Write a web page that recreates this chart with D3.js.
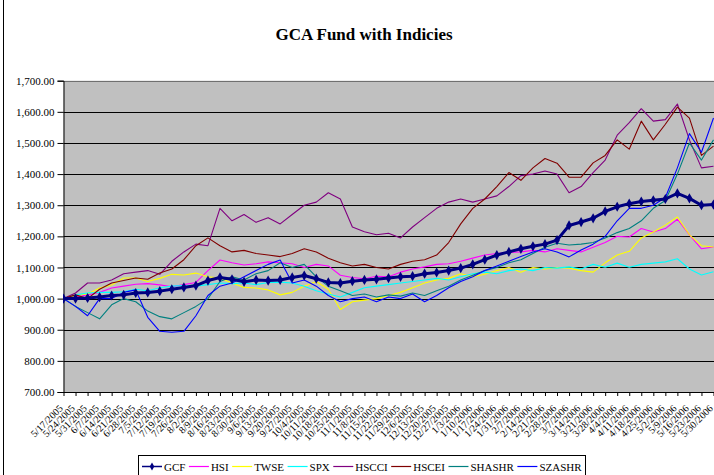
<!DOCTYPE html>
<html>
<head>
<meta charset="utf-8">
<script src="https://cdn.jsdelivr.net/npm/d3@7"></script>
<style>
body { margin: 0; background: #fff; }
svg { display: block; font-family: "Liberation Serif", "Times New Roman", serif; }
</style>
</head>
<body>
<div id="chart"></div>
<script>
// weekly category labels (x axis)
var dates = ["5/17/2005", "5/24/2005", "5/31/2005", "6/7/2005", "6/14/2005", "6/21/2005", "6/28/2005",
    "7/5/2005", "7/12/2005", "7/19/2005", "7/26/2005", "8/2/2005", "8/9/2005", "8/16/2005", "8/23/2005",
    "8/30/2005", "9/6/2005", "9/13/2005", "9/20/2005", "9/27/2005", "10/4/2005", "10/11/2005", "10/18/2005",
    "10/25/2005", "11/1/2005", "11/8/2005", "11/15/2005", "11/22/2005", "11/29/2005", "12/6/2005",
    "12/13/2005", "12/20/2005", "12/27/2005", "1/3/2006", "1/10/2006", "1/17/2006", "1/24/2006",
    "1/31/2006", "2/7/2006", "2/14/2006", "2/21/2006", "2/28/2006", "3/7/2006", "3/14/2006", "3/21/2006",
    "3/28/2006", "4/4/2006", "4/11/2006", "4/18/2006", "4/25/2006", "5/2/2006", "5/9/2006", "5/16/2006",
    "5/23/2006", "5/30/2006"];

var yTicks = [700, 800, 900, 1000, 1100, 1200, 1300, 1400, 1500, 1600, 1700];

var seriesNames = ["GCF", "HSI", "TWSE", "SPX", "HSCCI", "HSCEI", "SHASHR", "SZASHR"];
var seriesColors = ["#000080", "#ff00ff", "#ffff00", "#00ffff", "#800080", "#800000", "#008080", "#0000ff"];

var gcf = [1000, 1000, 1002, 1005, 1010, 1012, 1018, 1020, 1024, 1030, 1036, 1042, 1058, 1068, 1062,
    1054, 1060, 1058, 1060, 1068, 1074, 1064, 1052, 1050, 1056, 1060, 1062, 1066, 1070, 1072, 1080,
    1084, 1090, 1098, 1110, 1125, 1140, 1150, 1160, 1168, 1175, 1188, 1235, 1246, 1258, 1280, 1295,
    1305, 1312, 1316, 1320, 1338, 1322, 1300, 1302];
var hsi = [1000, 1005, 1012, 1020, 1034, 1040, 1046, 1048, 1044, 1038, 1045, 1052, 1090, 1124, 1115,
    1108, 1112, 1118, 1115, 1112, 1100, 1110, 1105, 1075, 1068, 1064, 1072, 1070, 1085, 1095, 1102,
    1110, 1112, 1120, 1130, 1140, 1145, 1148, 1150, 1155, 1150, 1160, 1155, 1150, 1165, 1180, 1200,
    1198, 1225, 1214, 1225, 1255, 1205, 1160, 1166];
var twse = [1000, 1010, 1015, 1034, 1044, 1066, 1066, 1055, 1065, 1078, 1076, 1082, 1070, 1066, 1050,
    1036, 1034, 1028, 1012, 1020, 1040, 1055, 1030, 965, 990, 995, 1000, 1010, 1020, 1035, 1050,
    1060, 1065, 1080, 1070, 1078, 1090, 1100, 1085, 1100, 1095, 1100, 1098, 1090, 1085, 1115, 1140,
    1152, 1195, 1214, 1236, 1262, 1205, 1170, 1166];
var spx = [1000, 1012, 1018, 1020, 1020, 1022, 1030, 1025, 1035, 1040, 1042, 1040, 1045, 1050, 1048,
    1050, 1045, 1052, 1053, 1050, 1040, 1025, 1015, 1005, 1020, 1035, 1040, 1045, 1050, 1055, 1060,
    1065, 1060, 1070, 1080, 1085, 1080, 1090, 1095, 1090, 1100, 1098, 1102, 1095, 1110, 1101, 1114,
    1101, 1110, 1114, 1118, 1128, 1095, 1076, 1086];
var hscci = [1000, 1018, 1050, 1050, 1060, 1080, 1085, 1090, 1078, 1120, 1150, 1175, 1170, 1290, 1250,
    1270, 1245, 1260, 1240, 1270, 1300, 1310, 1340, 1320, 1230, 1215, 1205, 1210, 1195, 1230, 1260,
    1290, 1310, 1320, 1310, 1320, 1330, 1360, 1395, 1400, 1410, 1400, 1340, 1360, 1405, 1445, 1525,
    1565, 1610, 1570, 1575, 1625, 1510, 1420, 1425];
var hscei = [1000, 1012, 1000, 1030, 1050, 1058, 1066, 1062, 1082, 1095, 1125, 1170, 1195, 1170, 1150,
    1155, 1145, 1140, 1135, 1145, 1160, 1150, 1130, 1115, 1105, 1110, 1100, 1095, 1110, 1120, 1125,
    1140, 1180, 1240, 1290, 1320, 1360, 1405, 1380, 1420, 1450, 1435, 1390, 1390, 1436, 1460, 1510,
    1480, 1570, 1510, 1560, 1615, 1580, 1460, 1490];
var shashr = [1000, 975, 955, 935, 980, 1000, 990, 960, 942, 935, 955, 975, 1000, 1055, 1070,
    1060, 1080, 1090, 1115, 1100, 1110, 1070, 1040, 1025, 1010, 1015, 1005, 1012, 1008, 1018, 1010,
    1025, 1040, 1060, 1075, 1090, 1100, 1115, 1125, 1145, 1165, 1178, 1172, 1175, 1180, 1195, 1212,
    1225, 1250, 1290, 1315, 1400, 1500, 1445, 1510];
var szashr = [1000, 975, 945, 1000, 1000, 1020, 1028, 940, 895, 892, 895, 945, 1010, 1040, 1050,
    1070, 1090, 1110, 1124, 1050, 1060, 1040, 1010, 990, 1000, 1005, 990, 1005, 1000, 1015, 990,
    1010, 1035, 1055, 1070, 1090, 1105, 1120, 1135, 1150, 1160, 1150, 1134, 1156, 1175, 1200, 1250,
    1290, 1290, 1300, 1325, 1420, 1530, 1470, 1580];

var seriesValues = [gcf, hsi, twse, spx, hscci, hscei, shashr, szashr];

var width = 714,
    height = 475;

var svg = d3.select("#chart").append("svg")
    .attr("width", width)
    .attr("height", height);

svg.append("rect")
    .attr("width", width)
    .attr("height", height)
    .attr("fill", "#fff");

// chart area border (only left edge is inside the picture)
svg.append("line")
    .attr("x1", 3.5).attr("x2", 3.5)
    .attr("y1", 0).attr("y2", height)
    .attr("stroke", "#000");

var x = d3.scalePoint()
    .domain(dates)
    .range([63.5, 713.5]);

var y = d3.scaleLinear()
    .domain([700, 1700])
    .range([392, 80.7]);

svg.append("text")
    .attr("x", 364)
    .attr("y", 40)
    .attr("text-anchor", "middle")
    .attr("font-size", 17)
    .attr("font-weight", "bold")
    .text("GCA Fund with Indicies");

// plot area
svg.append("rect")
    .attr("x", 63.5)
    .attr("y", y(1700))
    .attr("width", width - 63.5 + 5)
    .attr("height", y(700) - y(1700))
    .attr("fill", "#c0c0c0");

svg.append("g")
    .selectAll("line")
    .data(yTicks.slice(1))
    .enter().append("line")
    .attr("x1", 63.5)
    .attr("x2", width + 5)
    .attr("y1", function(d) { return Math.round(y(d)) + 0.5; })
    .attr("y2", function(d) { return Math.round(y(d)) + 0.5; })
    .attr("stroke", function(d) { return d === 1700 ? "#707070" : "#000"; });

svg.append("defs").append("clipPath")
    .attr("id", "plotClip")
    .append("rect")
    .attr("x", 63)
    .attr("y", y(1700))
    .attr("width", width)
    .attr("height", y(700) - y(1700));

// y axis
var yAxis = svg.append("g")
    .attr("transform", "translate(63.5,0)")
    .call(d3.axisLeft(y)
        .tickValues(yTicks)
        .tickFormat(d3.format(",.2f"))
        .tickSize(6)
        .tickPadding(3));
yAxis.select(".domain").attr("stroke", "#000");
yAxis.selectAll(".tick line").attr("stroke", "#000");
yAxis.selectAll("text")
    .attr("font-family", "Liberation Serif")
    .attr("font-size", 11)
    .attr("fill", "#000");

// x axis
var xAxis = svg.append("g")
    .attr("transform", "translate(0,392)")
    .call(d3.axisBottom(x)
        .tickSize(4)
        .tickSizeOuter(0));
xAxis.select(".domain").attr("stroke", "#000");
xAxis.selectAll(".tick line").attr("stroke", "#000");
xAxis.selectAll("text")
    .attr("font-family", "Liberation Serif")
    .attr("font-size", 10)
    .attr("fill", "#000")
    .attr("text-anchor", "end")
    .attr("dy", 0)
    .attr("y", 0)
    .attr("transform", "translate(-0.5,17) rotate(-45)");

// series lines
var line = d3.line()
    .x(function(d, i) { return x(dates[i]); })
    .y(function(d) { return y(d); });

var plot = svg.append("g").attr("clip-path", "url(#plotClip)");

var order = [1, 2, 3, 4, 5, 6, 7, 0];
order.forEach(function(s) {
    plot.append("path")
        .datum(seriesValues[s])
        .attr("fill", "none")
        .attr("stroke", seriesColors[s])
        .attr("stroke-width", s === 0 ? 3 : 1.1)
        .attr("stroke-linejoin", "round")
        .attr("d", line);
});

plot.selectAll(".gcf-marker")
    .data(gcf)
    .enter().append("path")
    .attr("class", "gcf-marker")
    .attr("transform", function(d, i) { return "translate(" + x(dates[i]) + "," + y(d) + ")"; })
    .attr("d", d3.symbol(d3.symbolDiamond, 30))
    .attr("fill", "#000080");

// legend
var legend = svg.append("g");
legend.append("rect")
    .attr("x", 138.5)
    .attr("y", 455.5)
    .attr("width", 447)
    .attr("height", 40)
    .attr("fill", "#fff")
    .attr("stroke", "#000");

var lx = 142;
seriesNames.forEach(function(name, i) {
    legend.append("line")
        .attr("x1", lx).attr("x2", lx + 20)
        .attr("y1", 466.5).attr("y2", 466.5)
        .attr("stroke", seriesColors[i])
        .attr("stroke-width", i === 0 ? 1.5 : 1.2);
    if (i === 0) {
        legend.append("path")
            .attr("transform", "translate(" + (lx + 10) + ",466.5)")
            .attr("d", d3.symbol(d3.symbolDiamond, 18))
            .attr("fill", "#000080");
    }
    var t = legend.append("text")
        .attr("x", lx + 22)
        .attr("y", 470.5)
        .attr("font-size", 11)
        .text(name);
    lx += 22 + t.node().getComputedTextLength() + 3.5;
});
</script>
</body>
</html>
